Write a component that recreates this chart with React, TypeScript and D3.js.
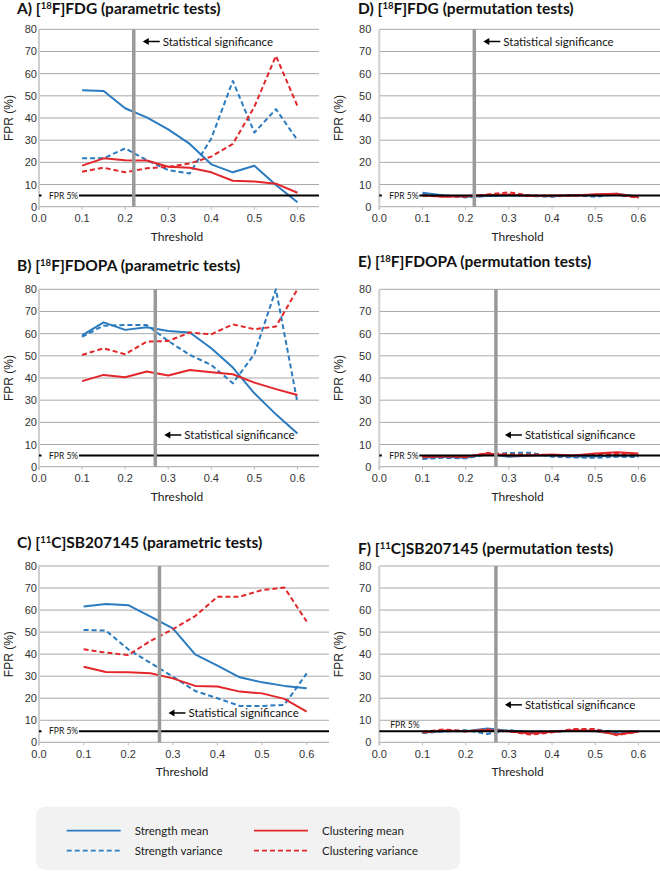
import { useEffect, useRef } from "react";
import * as d3 from "d3";

// thresholds shared by every panel
const thresholds = [0.1, 0.15, 0.2, 0.25, 0.3, 0.35, 0.4, 0.45, 0.5, 0.55, 0.6];
const xTicks = [0, 0.1, 0.2, 0.3, 0.4, 0.5, 0.6];
const yTicks = [0, 10, 20, 30, 40, 50, 60, 70, 80];

const seriesNames = ["Strength mean", "Strength variance", "Clustering mean", "Clustering variance"];

// A) [18F]FDG parametric
const fdgParStrMean = [52.5, 52.2, 44.4, 40.3, 34.9, 28.3, 19.1, 15.5, 18.5, 9.8, 2];
const fdgParStrVar = [21.8, 21.8, 26.3, 21, 16.5, 15, 30.8, 56.7, 33.4, 44, 30];
const fdgParCluMean = [18.5, 21.8, 21, 20.8, 18, 17.6, 15.5, 11.7, 11.4, 10.4, 6.3];
const fdgParCluVar = [15.8, 17.6, 15.5, 17.3, 18, 19.5, 22.6, 28.3, 45.1, 68, 45.4];

// B) [18F]FDOPA parametric
const fdopaParStrMean = [59.2, 65.1, 61.7, 62.9, 61.2, 60.5, 53.4, 44.7, 33.1, 23.6, 15];
const fdopaParStrVar = [58.6, 63.6, 63.9, 63.9, 56.7, 50.4, 45.9, 37.6, 50.8, 80, 28.9];
const fdopaParCluMean = [38.6, 41.4, 40.3, 42.9, 41.1, 43.6, 42.6, 41.7, 37.9, 35, 32.3];
const fdopaParCluVar = [50.4, 53.4, 50.7, 56.4, 56.7, 60.5, 59.7, 64.2, 62, 63.2, 80];

// C) [11C]SB207145 parametric
const sbParStrMean = [61.6, 62.8, 62.2, 57, 51.7, 39.9, 34.8, 29.5, 27.2, 25.6, 24.5];
const sbParStrVar = [51, 50.7, 42.2, 36, 29.8, 23.3, 20, 16.5, 16.5, 17, 31.3];
const sbParCluMean = [34.3, 31.9, 31.8, 31.3, 29, 25.6, 25.3, 23, 22.2, 19.7, 13.9];
const sbParCluVar = [42.2, 40.7, 39.6, 46, 51.3, 57.3, 66.1, 66.1, 69.1, 70.2, 54.8];

// D) [18F]FDG permutation
const fdgPermStrMean = [6.3, 5, 4.5, 4.8, 5, 5, 4.7, 5.3, 5, 5.8, 4.5];
const fdgPermStrVar = [5.8, 5, 4.2, 4.8, 5.2, 4.8, 4.5, 5.2, 4.5, 5.5, 4.3];
const fdgPermCluMean = [5.2, 4.5, 4.8, 5.3, 5.5, 4.8, 5, 5, 5.6, 5.8, 4.2];
const fdgPermCluVar = [5, 4.6, 4.5, 5.5, 6.5, 5, 4.8, 5, 5.3, 5.5, 4];

// E) [18F]FDOPA permutation
const fdopaPermStrMean = [4, 4.5, 4, 5.8, 4.5, 5, 5, 4.6, 4.6, 5.2, 5];
const fdopaPermStrVar = [3.5, 4, 3.8, 5.5, 6.2, 6.3, 4.5, 4.2, 4, 4.5, 4.3];
const fdopaPermCluMean = [4.5, 4.8, 4.5, 6, 5, 5, 5.5, 5, 6, 6.5, 6];
const fdopaPermCluVar = [4.3, 4.5, 4.3, 6.2, 5.5, 5.5, 5.2, 5, 5.5, 5.8, 5.5];

// F) [11C]SB207145 permutation
const sbPermStrMean = [4.5, 5, 5, 6.3, 5.2, 4.5, 4.8, 5.2, 5, 3.8, 5];
const sbPermStrVar = [4.2, 5, 5.5, 3.8, 5.5, 4.5, 4.8, 5.5, 5.8, 4.5, 5];
const sbPermCluMean = [4.5, 5.3, 5, 5.5, 5, 4, 4.8, 5.5, 5.2, 3.5, 4.8];
const sbPermCluVar = [4.8, 5.8, 5, 5.8, 5, 3.5, 4.5, 6, 6, 3.2, 4.8];

const BLUE = "#2a7bbf";
const RED = "#e3262a";
const colors = [BLUE, BLUE, RED, RED];
const dashes = [null, "5,3", null, "5,3"];

const panels = [
  { letter: "A)", iso: "18", rest: "F]FDG (parametric tests)", series: [fdgParStrMean, fdgParStrVar, fdgParCluMean, fdgParCluVar],
    left: 39, right: 319, top: 29.3, bottom: 206.7, titleX: 17, titleY: 14, sig: 0.22, arrowY: 74.5, fprAbove: false },
  { letter: "B)", iso: "18", rest: "F]FDOPA (parametric tests)", series: [fdopaParStrMean, fdopaParStrVar, fdopaParCluMean, fdopaParCluVar],
    left: 39, right: 319, top: 289.3, bottom: 466.7, titleX: 17, titleY: 271, sig: 0.27, arrowY: 14.3, fprAbove: false },
  { letter: "C)", iso: "11", rest: "C]SB207145 (parametric tests)", series: [sbParStrMean, sbParStrVar, sbParCluMean, sbParCluVar],
    left: 39, right: 329, top: 566, bottom: 742.3, titleX: 17, titleY: 548, sig: 0.27, arrowY: 13.3, fprAbove: false },
  { letter: "D)", iso: "18", rest: "F]FDG (permutation tests)", series: [fdgPermStrMean, fdgPermStrVar, fdgPermCluMean, fdgPermCluVar],
    left: 379.3, right: 660, top: 29.3, bottom: 206.7, titleX: 358, titleY: 14, sig: 0.22, arrowY: 74.5, fprAbove: false },
  { letter: "E)", iso: "18", rest: "F]FDOPA (permutation tests)", series: [fdopaPermStrMean, fdopaPermStrVar, fdopaPermCluMean, fdopaPermCluVar],
    left: 379.3, right: 660, top: 289.3, bottom: 466.7, titleX: 358, titleY: 267, sig: 0.27, arrowY: 14.3, fprAbove: false },
  { letter: "F)", iso: "11", rest: "C]SB207145 (permutation tests)", series: [sbPermStrMean, sbPermStrVar, sbPermCluMean, sbPermCluVar],
    left: 379.3, right: 660, top: 566, bottom: 742.3, titleX: 358, titleY: 554, sig: 0.27, arrowY: 17, fprAbove: true },
];

const W = 660, H = 871;
const sans = "Lato, 'Open Sans', sans-serif";
const arial = "'Liberation Sans', Arial, sans-serif";

export default function App() {
  const ref = useRef(null);

  useEffect(() => {
    document.body.style.margin = "0";
    const svg = d3.select(ref.current);
    svg.selectAll("*").remove();
    svg.append("rect").attr("width", W).attr("height", H).attr("fill", "#fff");

    panels.forEach((p, pi) => {
      const g = svg.append("g");
      const x = d3.scaleLinear().domain([0, 0.65]).range([p.left, p.right]);
      const y = d3.scaleLinear().domain([0, 80]).range([p.bottom, p.top]);
      const leftCol = pi < 3;

      // gridlines
      g.selectAll("line.grid")
        .data(yTicks)
        .join("line")
        .attr("x1", x(0))
        .attr("x2", x(0.65))
        .attr("y1", (d) => y(d))
        .attr("y2", (d) => y(d))
        .attr("stroke", "#a8a8a8")
        .attr("stroke-width", 1);

      // left axis
      g.append("line")
        .attr("x1", x(0)).attr("x2", x(0))
        .attr("y1", y(0) + 3).attr("y2", y(80))
        .attr("stroke", "#cfcfcf").attr("stroke-width", 2);

      // x ticks
      g.selectAll("line.xt")
        .data(xTicks)
        .join("line")
        .attr("x1", (d) => x(d)).attr("x2", (d) => x(d))
        .attr("y1", y(0)).attr("y2", y(0) + 3)
        .attr("stroke", "#bbb");

      g.selectAll("text.xl")
        .data(xTicks)
        .join("text")
        .attr("x", (d) => x(d))
        .attr("y", y(0) + 15.5)
        .attr("text-anchor", "middle")
        .style("font-family", arial)
        .style("font-size", "11px")
        .style("fill", "#333")
        .text((d) => d.toFixed(1));

      g.selectAll("text.yl")
        .data(yTicks)
        .join("text")
        .attr("x", x(0) - (leftCol ? 2 : 8))
        .attr("y", (d) => y(d) + 4)
        .attr("text-anchor", "end")
        .style("font-family", arial)
        .style("font-size", "11px")
        .style("fill", "#333")
        .text((d) => d);

      // axis titles
      g.append("text")
        .attr("transform", `translate(${x(0) - (leftCol ? 26 : 36)},${(y(0) + y(80)) / 2}) rotate(-90)`)
        .attr("text-anchor", "middle")
        .style("font-family", arial)
        .style("font-size", "12px")
        .style("fill", "#222")
        .text("FPR (%)");

      g.append("text")
        .attr("x", (x(0) + x(0.65)) / 2 - 2)
        .attr("y", y(0) + 34)
        .attr("text-anchor", "middle")
        .style("font-family", sans)
        .style("font-size", "12px")
        .style("fill", "#222")
        .text("Threshold");

      // series
      const line = d3
        .line<number>()
        .x((_, i) => x(thresholds[i]))
        .y((d) => y(Math.min(d, 80)));

      p.series.forEach((vals, si) => {
        g.append("path")
          .datum(vals)
          .attr("fill", "none")
          .attr("stroke", colors[si])
          .attr("stroke-width", 2)
          .attr("stroke-dasharray", dashes[si])
          .attr("stroke-linejoin", "round")
          .attr("d", line)
          .append("title")
          .text(seriesNames[si]);
      });

      // FPR 5% reference
      g.append("line")
        .attr("x1", x(0)).attr("x2", x(0.65))
        .attr("y1", y(5)).attr("y2", y(5))
        .attr("stroke", "#000").attr("stroke-width", 2);

      if (p.fprAbove) {
        g.append("text")
          .attr("x", x(0) + 11)
          .attr("y", y(5) - 3.5)
          .style("font-family", sans)
          .style("font-size", "8.5px")
          .style("fill", "#111")
          .text("FPR 5%");
      } else {
        g.append("rect")
          .attr("x", x(0) + 2.5)
          .attr("y", y(5) - 4.5)
          .attr("width", 37.5)
          .attr("height", 9)
          .attr("fill", "#fff");
        g.append("text")
          .attr("x", x(0) + 10)
          .attr("y", y(5) + 3)
          .style("font-family", sans)
          .style("font-size", "8.5px")
          .style("fill", "#111")
          .text("FPR 5%");
      }

      // statistical significance band
      g.append("line")
        .attr("x1", x(p.sig)).attr("x2", x(p.sig))
        .attr("y1", y(0)).attr("y2", y(80))
        .attr("stroke", "#9a9a9a").attr("stroke-width", 3.5);

      const tip = x(p.sig) + 9;
      const ay = y(p.arrowY);
      g.append("path")
        .attr("d", `M${tip},${ay} l6,-3.5 l0,7 z`)
        .attr("fill", "#000");
      g.append("line")
        .attr("x1", tip + 5).attr("x2", tip + 17)
        .attr("y1", ay).attr("y2", ay)
        .attr("stroke", "#000").attr("stroke-width", 1.5);
      g.append("text")
        .attr("x", tip + 20)
        .attr("y", ay + 4.5)
        .style("font-family", sans)
        .style("font-size", "11.5px")
        .style("fill", "#111")
        .text("Statistical significance");

      // title
      const t = g.append("text")
        .attr("x", p.titleX)
        .attr("y", p.titleY)
        .style("font-family", sans)
        .style("font-size", "15.5px")
        .style("font-weight", "bold")
        .style("fill", "#111");
      t.append("tspan").text(`${p.letter} [`);
      t.append("tspan").attr("dy", -5.5).style("font-size", "9.5px").text(p.iso);
      t.append("tspan").attr("dy", 5.5).text(p.rest);
    });

    // legend
    const lg = svg.append("g");
    lg.append("rect")
      .attr("x", 36).attr("y", 806.7)
      .attr("width", 424).attr("height", 63.3)
      .attr("rx", 9)
      .attr("fill", "#f2f2f2");

    const legendCols = [66.7, 254];
    seriesNames.forEach((name, si) => {
      const col = legendCols[Math.floor(si / 2)];
      const ly = si % 2 === 0 ? 830.7 : 850.7;
      lg.append("line")
        .attr("x1", col).attr("x2", col + 54)
        .attr("y1", ly).attr("y2", ly)
        .attr("stroke", colors[si])
        .attr("stroke-width", 1.8)
        .attr("stroke-dasharray", dashes[si]);
      lg.append("text")
        .attr("x", col + 68)
        .attr("y", ly + 4)
        .style("font-family", sans)
        .style("font-size", "11.5px")
        .style("fill", "#222")
        .text(name);
    });
  }, []);

  return <svg ref={ref} width={W} height={H} style={{ display: "block" }} />;
}
